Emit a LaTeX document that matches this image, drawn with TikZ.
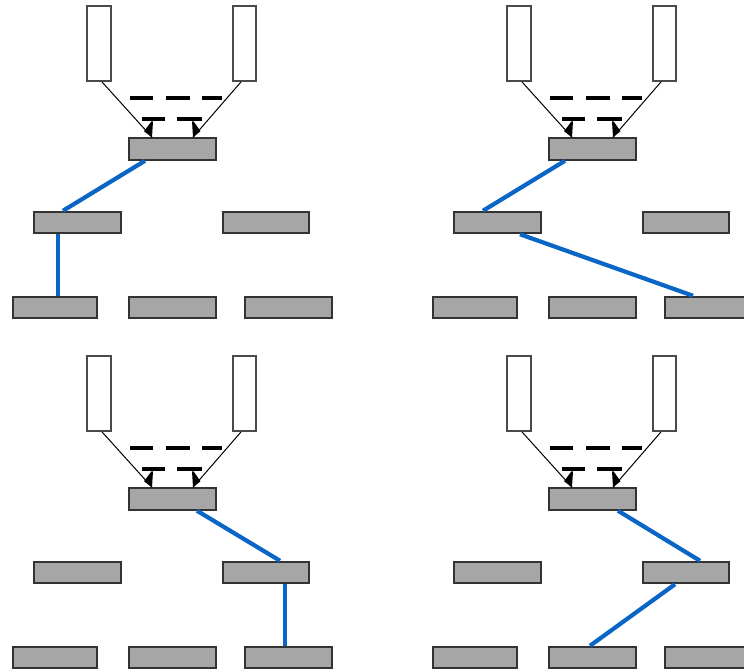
\documentclass[tikz,border=0pt]{standalone}
\definecolor{boxfill}{HTML}{A6A6A6}
\definecolor{boxborder}{HTML}{333333}
\definecolor{tallborder}{HTML}{4A4A4A}
\definecolor{linkblue}{HTML}{0A66C6}
\tikzset{
  tall/.style={draw=tallborder, fill=white, line width=1.8pt, minimum width=#1, minimum height=75pt, inner sep=0pt},
  gbox/.style={draw=boxborder, fill=boxfill, line width=2pt, minimum height=21.5pt, minimum width=#1, inner sep=0pt},
  link/.style={draw=linkblue, line width=4.2pt},
  feed/.style={draw=black, line width=1pt},
  dashrow/.style={draw=black, line width=4.5pt},
}
\newcommand\panel[3]{%
  \begin{scope}[shift={(#2,#3)}]
    \node[tall=24pt] (#1L) at (99,43.5) {};
    \node[tall=23pt] (#1R) at (244.5,43.5) {};
    \node[gbox=87pt] (#1T) at (172.5,149) {};
    \node[gbox=87pt] (#1ML) at (77.5,222.5) {};
    \node[gbox=86pt] (#1MR) at (266,222.5) {};
    \node[gbox=84pt] (#1BL) at (55,307.5) {};
    \node[gbox=87pt] (#1BM) at (172.5,307.5) {};
    \node[gbox=87pt] (#1BR) at (288.5,307.5) {};
    \draw[dashrow] (130,98) -- (153,98) (166,98) -- (190,98) (202,98) -- (222,98);
    \draw[dashrow] (142,119) -- (165,119) (177,119) -- (202,119);
  \end{scope}
  \coordinate (#1tipL) at ([xshift=24pt]#1T.north west);
  \coordinate (#1tipR) at ([xshift=65pt]#1T.north west);
  \draw[feed] ([xshift=3pt]#1L.south) -- (#1tipL);
  \draw[feed] ([xshift=-3.5pt]#1R.south) -- (#1tipR);
  \fill[black] (#1tipL) -- ++(1,-16) -- ++(-1.5,0) -- ++(-7.5,10) -- cycle;
  \fill[black] (#1tipR) -- ++(-1,-16) -- ++(1.5,0) -- ++(7,10) -- cycle;
}
\begin{document}
\begin{tikzpicture}[x=1pt,y=-1pt]
  \useasboundingbox (0,0) rectangle (744,670);
  \fill[white] (0,0) rectangle (744,670);
  % top left
  \panel{a}{0}{0}
  \draw[link] ([xshift=17pt]aT.south west) -- ([xshift=30pt]aML.north west);
  \draw[link] ([xshift=25pt]aML.south west) -- ([xshift=46pt]aBL.north west);
  % top right
  \panel{b}{420}{0}
  \draw[link] ([xshift=17pt]bT.south west) -- ([xshift=30pt]bML.north west);
  \draw[link] ([xshift=67pt]bML.south west) -- ([xshift=29pt]bBR.north west);
  % bottom left
  \panel{c}{0}{350}
  \draw[link] ([xshift=69pt]cT.south west) -- ([xshift=58pt]cMR.north west);
  \draw[link] ([xshift=63pt]cMR.south west) -- ([xshift=41pt]cBR.north west);
  % bottom right
  \panel{d}{420}{350}
  \draw[link] ([xshift=70pt]dT.south west) -- ([xshift=58pt]dMR.north west);
  \draw[link] ([xshift=33pt]dMR.south west) -- ([xshift=42pt]dBM.north west);
\end{tikzpicture}
\end{document}
